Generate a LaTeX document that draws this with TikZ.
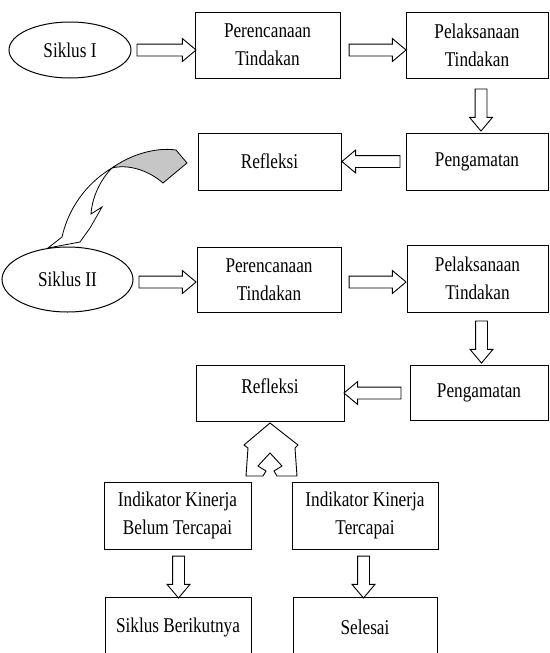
\documentclass[tikz,border=0pt]{standalone}
\usepackage{fontspec}
\setmainfont{Liberation Serif}[FakeStretch=0.82]
\usetikzlibrary{calc,shapes.geometric,shapes.arrows}

% flecha gruesa (hueca) entre dos puntos
\newcommand{\flecha}[2]{%
  \path let \p1=(#1), \p2=(#2),
    \n1={veclen(\x2-\x1,\y2-\y1)}, \n2={atan2(\y2-\y1,\x2-\x1)} in
    node[bloque, minimum height=\n1, rotate=\n2] at ($(\p1)!0.5!(\p2)$) {};}

\begin{document}
\begin{tikzpicture}[
    x=1pt, y=-1pt,
    caja/.style={rectangle, draw, line width=1pt, inner sep=0pt, align=center, font=\fontsize{21}{28}\selectfont},
    ciclo/.style={ellipse, draw, line width=1pt, inner sep=0pt, font=\fontsize{21}{28}\selectfont},
    bloque/.style={single arrow, draw, fill=white, line width=0.9pt, inner sep=5.5pt, minimum width=0pt,
                   single arrow head extend=5.5pt, single arrow tip angle=80}
]
\useasboundingbox (0,0) rectangle (549,653);
\clip (0,0) rectangle (549,653);
% Siklus I (fila 1 izq -> der, fila 2 der -> izq)
\node[ciclo, minimum width=122, minimum height=56] (s1) at (70,50) {Siklus I};
\node[caja, minimum width=145, minimum height=66] (per1) at (267.5,45) {Perencanaan\\Tindakan};
\node[caja, minimum width=142, minimum height=66] (pel1) at (477,45) {Pelaksanaan\\Tindakan};
\node[caja, minimum width=142, minimum height=57] (pen1) at (477,161.5) {Pengamatan};
\node[caja, minimum width=143, minimum height=57] (ref1) at (269.5,161.5) {Refleksi};
% Siklus II
\node[ciclo, minimum width=131, minimum height=65] (s2) at (67.5,279.5) {Siklus II};
\node[caja, minimum width=144, minimum height=65] (per2) at (269,279.5) {Perencanaan\\Tindakan};
\node[caja, minimum width=141, minimum height=67] (pel2) at (477.5,278.5) {Pelaksanaan\\Tindakan};
\node[caja, minimum width=138, minimum height=55] (pen2) at (479,392.5) {Pengamatan};
\node[caja, minimum width=148, minimum height=56, text depth=14pt] (ref2) at (270,393) {Refleksi};
% Indikator y final
\node[caja, minimum width=147, minimum height=67] (ik1) at (177.5,515.5) {Indikator Kinerja\\Belum Tercapai};
\node[caja, minimum width=146, minimum height=67] (ik2) at (365,515.5) {Indikator Kinerja\\Tercapai};
\node[caja, minimum width=146, minimum height=60] (sb) at (178,627) {Siklus Berikutnya};
\node[caja, minimum width=144, minimum height=60] (sel) at (365,627) {Selesai};

% Flechas del ciclo I
\flecha{$(s1.east)+(2,0)$}{$(s1.east -| per1.west)+(-2,0)$}
\flecha{$(per1.east |- s1.east)+(5,0)$}{$(pel1.west |- s1.east)+(-3,0)$}
\flecha{$(pel1.south)+(4,7)$}{$(pen1.north)+(4,-5)$}
\flecha{$(pen1.west)+(-2,0)$}{$(ref1.east)+(4,0)$}
% Flechas del ciclo II
\flecha{$(s2.east)+(2,2.5)$}{$(per2.west)+(-4,2.5)$}
\flecha{$(per2.east)+(4,2.5)$}{$(pel2.west)+(-4,3.5)$}
\flecha{$(pel2.south)+(4,5)$}{$(pen2.north)+(2.5,-5)$}
\flecha{$(pen2.west)+(-5,0.5)$}{$(ref2.east)+(3,0)$}
\flecha{$(ik1.south)+(1,3)$}{$(sb.north)+(0.5,-2)$}
\flecha{$(ik2.south)+(-1.5,3)$}{$(sel.north)+(-1.5,-2)$}

% flecha curva Refleksi -> Siklus II
\draw[line width=0.8pt, fill=gray!45] (112,168) .. controls (130,155) and (155,147) .. (176,150)
  -- (187,163) -- (163,183) .. controls (148,170) and (128,164) .. (112,168) -- cycle;
\draw[line width=0.8pt, fill=white] (112,168) .. controls (100,180) and (92,198) .. (91,214)
  -- (102,207) -- (90,228) -- (80,242) -- (48,248) -- (62,237)
  .. controls (68,210) and (85,184) .. (112,168) -- cycle;
% flecha dividida bajo Refleksi
\draw[line width=0.9pt, fill=white] (270,423) -- (244,445) -- (248,448) -- (246,476) -- (263,476)
  -- (266,471) -- (258,466) -- (270,453) -- (282,466) -- (274,471) -- (277,476)
  -- (297,476) -- (295,448) -- (298,445) -- cycle;
\end{tikzpicture}
\end{document}
